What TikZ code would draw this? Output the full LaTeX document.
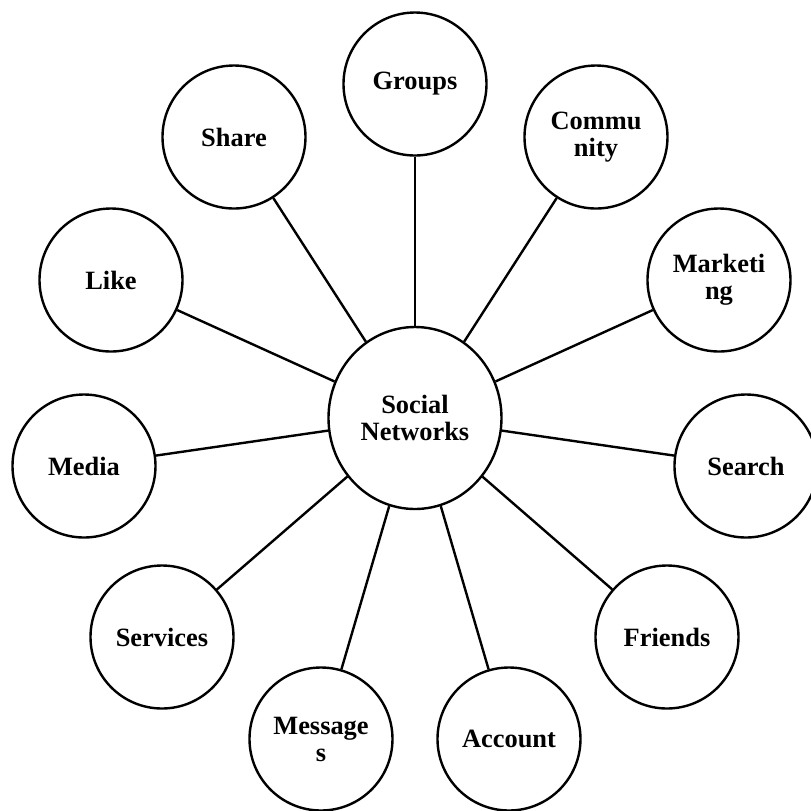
\documentclass[tikz,border=0pt]{standalone}
\usepackage{fontspec}
\setmainfont{Liberation Serif}
\usetikzlibrary{shapes.geometric}

\begin{document}
\begin{tikzpicture}[x=0.5pt, y=-0.5pt, line width=1.2pt,
  topic/.style={draw, circle, minimum size=71.5pt, inner sep=0pt, align=center, font=\bfseries\fontsize{13.2}{13.5}\selectfont},
  hub/.style={draw, ellipse, minimum width=86.5pt, minimum height=91pt, inner sep=0pt, align=center, font=\bfseries\fontsize{13.2}{13.2}\selectfont}]
\useasboundingbox (0, 0) rectangle (811, 811);
\node[hub] (sn) at (415, 418) {Social\\Networks};
\node[topic] (groups) at (415, 84) {Groups};
\node[topic] (community) at (596, 137) {Commu\\nity};
\node[topic] (marketing) at (719, 280) {Marketi\\ng};
\node[topic] (search) at (746, 466) {Search};
\node[topic] (friends) at (667, 637) {Friends};
\node[topic] (account) at (509, 739) {Account};
\node[topic] (messages) at (321, 739) {Message\\s};
\node[topic] (services) at (162, 637) {Services};
\node[topic] (media) at (84, 466) {Media};
\node[topic] (like) at (111, 280) {Like};
\node[topic] (share) at (234, 137) {Share};
\draw (sn) -- (groups);
\draw (sn) -- (community);
\draw (sn) -- (marketing);
\draw (sn) -- (search);
\draw (sn) -- (friends);
\draw (sn) -- (account);
\draw (sn) -- (messages);
\draw (sn) -- (services);
\draw (sn) -- (media);
\draw (sn) -- (like);
\draw (sn) -- (share);
\end{tikzpicture}
\end{document}
